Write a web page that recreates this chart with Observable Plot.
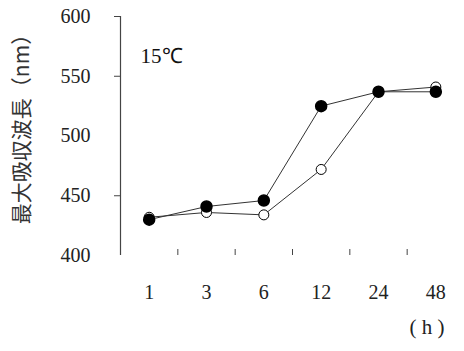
<!DOCTYPE html>
<html><head><meta charset="utf-8">
<script src="https://cdn.jsdelivr.net/npm/d3@7"></script>
<script src="https://cdn.jsdelivr.net/npm/@observablehq/plot@0.6"></script>
<style>
html,body{margin:0;padding:0;background:#fff;}
#chart svg, #chart svg text, #chart svg g { font-family: "Liberation Serif", serif !important; }
#chart svg text.ytitle { font-family: "Noto Sans CJK JP", sans-serif !important; }
</style>
</head><body>
<div id="chart"></div>
<script>
const times = ["1", "3", "6", "12", "24", "48"];
const filledSeries = [430, 441, 446, 525, 537, 537];
const openSeries = [432, 436, 434, 472, 537, 541];
const yTickValues = [400, 450, 500, 550, 600];
const yTickMarks = [450, 550, 600];
const yTitle = "最大吸収波長（nm）";
const tempLabel = "15℃";
const unitLabel = "( h )";

const idx = d3.range(times.length);
const xDomain = [-0.5, times.length - 0.5];
const bounds = idx.slice(1).map(i => i - 0.5);
const filledData = idx.map(i => ({i, v: filledSeries[i]}));
const openData = idx.map(i => ({i, v: openSeries[i]}));

const chart = Plot.plot({
  width: 464,
  height: 351,
  marginLeft: 120,
  marginRight: 0,
  marginTop: 16,
  marginBottom: 96,
  style: {background: "#fff", color: "#111"},
  x: {domain: xDomain, axis: null},
  y: {domain: [400, 600], axis: null},
  marks: [
    Plot.ruleX([xDomain[0]], {y1: yTickValues[0], y2: yTickValues[yTickValues.length - 1], stroke: "#444", strokeWidth: 1.2}),
    Plot.axisY(yTickMarks, {tickSize: 6, tickFormat: () => "", stroke: "#444", label: null}),
    Plot.axisY(yTickValues, {tickSize: 0, tickPadding: 30, fontSize: 20, fill: "#222", label: null}),
    Plot.axisX(bounds, {tickSize: -6, tickFormat: () => "", stroke: "#444", label: null}),
    Plot.axisX(idx, {tickSize: 0, tickPadding: 29, tickFormat: i => times[i], fontSize: 20, fill: "#222", label: null}),
    Plot.line(openData, {x: "i", y: "v", stroke: "#333", strokeWidth: 1}),
    Plot.line(filledData, {x: "i", y: "v", stroke: "#333", strokeWidth: 1}),
    Plot.dot(openData, {x: "i", y: "v", r: 5, fill: "white", stroke: "black", strokeWidth: 1}),
    Plot.dot(filledData, {x: "i", y: "v", r: 5.5, fill: "black", stroke: "black"}),
    Plot.text([tempLabel], {frameAnchor: "top-left", dx: 20, dy: 32, fontSize: 21, fill: "#111", textAnchor: "start"}),
    Plot.text([unitLabel], {frameAnchor: "bottom-right", dx: -20, dy: 78, fontSize: 21, fill: "#222", textAnchor: "end"}),
    Plot.text([yTitle], {frameAnchor: "left", dx: -98, dy: -12, rotate: -90, textAnchor: "middle", fontSize: 21, fill: "#333"})
  ]
});
chart.querySelectorAll("text").forEach(el => {
  if (el.textContent === yTitle) el.classList.add("ytitle");
});
document.getElementById("chart").appendChild(chart);
</script>
</body></html>
